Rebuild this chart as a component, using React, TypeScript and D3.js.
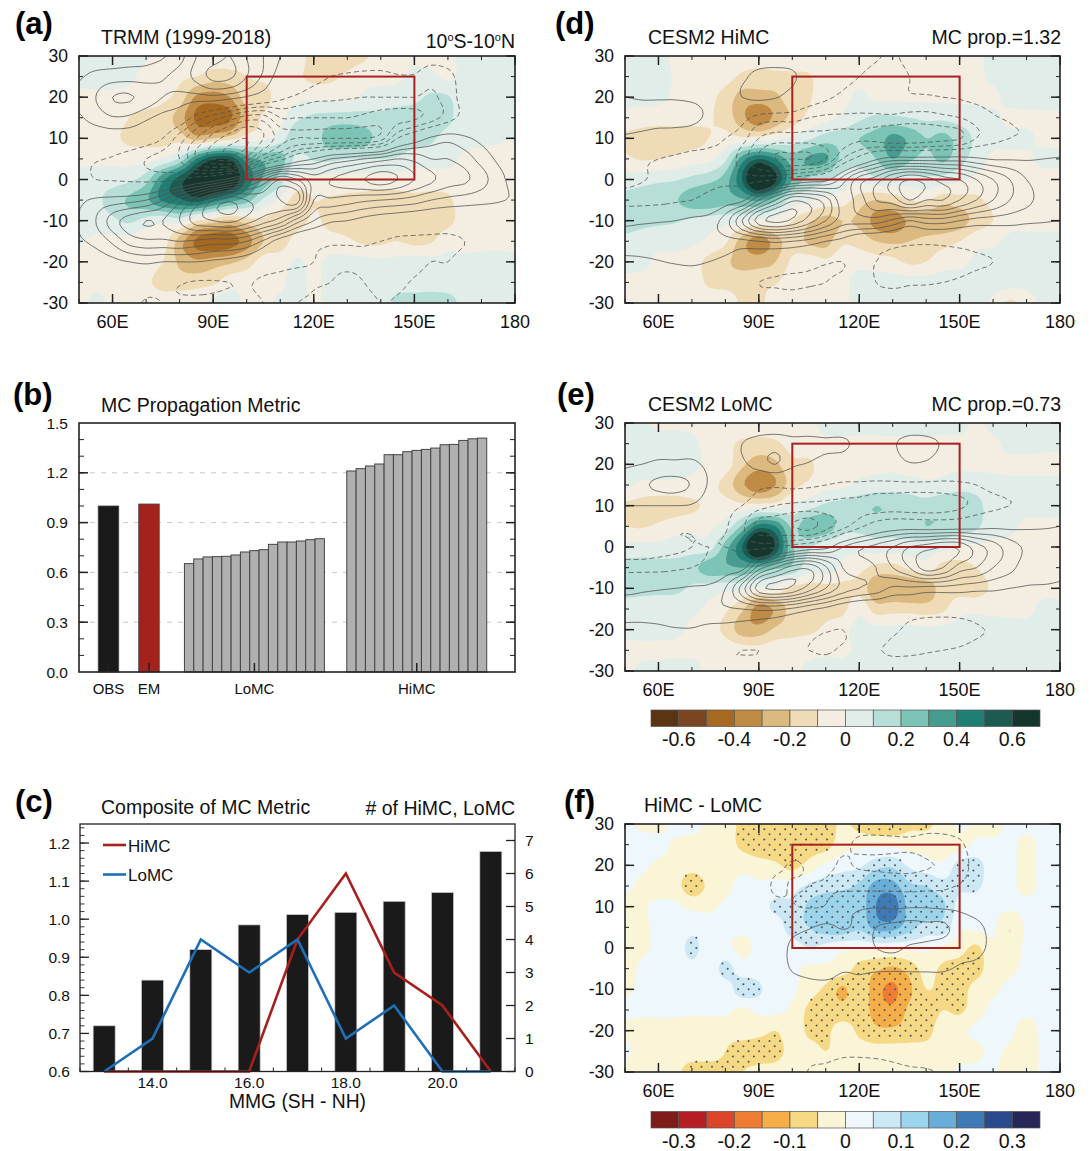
import React from "react";
import * as d3 from "d3";

const FONT = "'Liberation Sans', Arial, sans-serif";
const LONS = d3.range(50, 181, 5);
const LATS = d3.range(30, -31, -5);

// Panel (a) TRMM: rainfall-like shaded anomaly (hundredths), rows 30N..30S, cols 50E..180
const A_FILL = [
  [3,3,2,2,1,-2,-3,-5,-5,-5,-5,-3,-3,-3,-15,-15,-15,-12,-5,-3,-3,-2,-2,3,4,3,2],
  [4,5,5,2,-3,-5,-8,-10,-15,-14,-10,-8,-5,-8,-13,-12,-8,-3,-2,-2,3,2,-2,3,3,8,5],
  [-3,-3,-3,-4,-5,-8,-14,-32,-35,-30,-15,-14,-5,-3,-2,-3,-3,2,3,5,7,12,11,3,3,3,3],
  [-4,-4,-5,-10,-13,-15,-25,-42,-45,-42,-22,-8,-3,8,12,14,15,14,13,15,16,19,13,3,2,2,2],
  [-3,-5,-8,-12,-13,-14,-14,-25,-20,-15,-5,-3,5,18,16,25,26,24,16,15,14,12,5,3,2,1,0],
  [-2,-3,-3,-4,-3,1,12,40,58,58,35,28,25,7,11,12,10,10,10,9,5,4,3,-2,-3,-3,-4],
  [3,6,6,8,16,38,55,70,85,75,48,28,15,-2,-3,-4,-4,-4,-5,-5,-5,-5,-4,-4,-3,-3,-2],
  [5,8,14,22,28,42,48,55,45,35,25,8,-2,-15,-10,-11,-12,-13,-14,-13,-12,-13,-12,-4,-3,-3,-3],
  [3,5,8,12,6,2,5,-10,-15,-22,-15,-12,-17,-15,-8,-14,-15,-15,-15,-14,-15,-15,-13,-5,-3,-3,-2],
  [1,-2,-3,-4,-8,-5,-25,-42,-48,-45,-35,-20,-16,-5,-3,-5,-8,-12,-12,-10,-13,-11,-3,-3,-2,-2,-2],
  [-2,-2,-2,-3,-5,-10,-22,-28,-25,-22,-16,-5,-4,1,-2,2,3,3,2,3,5,3,2,2,2,2,2],
  [-2,-3,-3,-5,-8,-14,-15,-14,-12,-4,-3,-3,-2,4,-2,4,4,4,5,5,5,5,4,4,3,2,2],
  [-4,3,-2,-2,-3,-3,-3,-3,3,4,-2,-2,2,3,-2,3,3,3,3,14,15,16,15,6,3,3,3],
];
// Panel (a) contour field
const A_LINE = [
  [.3,.3,.4,.5,.6,.9,1.6,3,3.5,4,3,2,1,.4,.2,.1,0,-.2,-.3,-.3,-.4,-.6,-.5,-.3,-.2,-.2,-.2],
  [.9,1.3,1.5,1.6,1.6,1.9,2.4,3.3,4.3,4.2,3,1.8,.5,.1,-.5,-1,-1.2,-1.3,-1.3,-1.1,-1.1,-1.6,-1.3,-.5,-.3,-.2,-.2],
  [1.2,2,3,3.1,2.6,2,1.7,1.6,1.7,1.4,.9,.2,-.7,-1.2,-1.7,-1.8,-1.9,-2,-2,-2,-2,-2.2,-1.5,-.6,-.3,-.2,-.2],
  [.9,1.4,1.9,1.8,1.2,.6,0,-1.5,-2.5,-3.5,-4.5,-4.5,-3,-3,-3,-3,-3,-3.2,-3.5,-3.4,-3.2,-2.5,-1.5,-.6,-.3,-.2,-.2],
  [.3,.2,.2,.1,-.3,-1,-2.5,-4,-5.5,-6.5,-7,-6,-4.5,-4,-4,-4,-4,-4,-3.5,-1,.2,1.2,1.6,1.2,.7,.3,-.1],
  [-.6,-.9,-1.1,-1.5,-2,-2.4,-3,-5,-6,-6.5,-5.5,-3,-1.5,.2,1,2,2.5,3,3.5,4,3.7,3,3,2.5,1.6,.8,.2],
  [-.4,-1,-1.1,-1.2,-1.3,-1.3,-1,-.3,.3,1.5,3,5,7,6,4.5,5,5.5,6,6.5,6,5,4.2,3.5,3.2,2.4,1.4,.6],
  [.8,1.2,1.4,1.6,2,3,4.5,6,8,8.8,8,7.5,8,8.5,4,3.8,3.5,3.2,3,2.8,2.5,2,1.7,1.5,1.3,1.1,.9],
  [1,2,3.5,4.5,5,5,6,7.5,8,8.3,7.5,6.5,5.5,3.5,2,1.2,1,.6,.3,.1,-.1,-.2,-.3,-.2,-.1,0,.1],
  [.9,1.3,2.2,3.4,3.8,3.8,4,3.8,3.5,3.5,3,1.8,.4,-.3,-.6,-.8,-.8,-.8,-1,-1.2,-1.2,-1.2,-1.2,-1,-.6,-.4,-.3],
  [.2,.4,.7,1,1.2,1,1,1,.8,.6,.3,-.2,-.6,-.8,-1,-1.2,-1.3,-1.3,-1.6,-1.5,-1.3,-1,-1,-.6,-.4,-.2,-.2],
  [-.1,-.2,-.2,-.3,-.4,-.6,-.9,-1.1,-1.1,-1,-.9,-1.2,-1.3,-1.4,-1.1,-1,-.6,-1,-1.4,-1.2,-.9,-.6,-.6,-.3,-.2,-.1,-.1],
  [-.1,-.1,-.3,-.6,-1.1,-1,-.9,-.8,-.7,-.5,-.6,-1,-1.2,-1,-.8,-.5,-.5,-.6,-1,-.9,-.7,-.5,-.4,-.2,-.1,-.1,-.1],
];
// Panel (d) CESM2 HiMC
const D_FILL = [
  [3,3,3,-2,-3,-3,-4,-5,-5,-4,-3,-3,-3,-2,-2,-2,-2,-2,-2,-2,-2,-2,3,4,4,4,4],
  [3,3,4,-1,-3,-5,-6,-12,-14,-13,-12,-11,-4,-3,-2,-2,-2,-2,-2,-2,-2,-2,2,4,4,4,4],
  [2,3,3,-2,-3,-7,-14,-24,-24,-22,-14,-11,-4,-3,2,-2,-2,-2,-2,-2,-2,-2,-2,3,4,4,4],
  [-3,-5,-6,-6,-7,-9,-14,-27,-38,-27,-17,-7,-3,2,8,12,12,10,8,8,6,4,2,-2,-2,-2,-2],
  [-12,-14,-14,-14,-13,-10,-6,-8,-6,-3,3,8,15,16,20,24,33,28,20,23,16,8,3,2,2,-2,-2],
  [-8,-11,-10,-8,-5,-3,8,35,50,40,25,32,32,17,14,20,30,22,17,22,14,5,-2,-2,-2,2,2],
  [4,6,8,9,13,17,25,50,85,62,30,18,12,5,3,8,8,6,8,6,2,-3,-3,-3,-3,-3,-3],
  [14,15,16,19,26,28,25,28,32,22,6,2,-3,-5,-15,-20,-17,-10,-9,-16,-14,-12,-7,-3,-2,-2,-2],
  [15,13,12,11,8,5,3,2,-2,-3,-10,-18,-24,-20,-22,-34,-38,-28,-27,-28,-25,-16,-10,-3,-2,-2,-2],
  [7,5,3,3,2,-2,-8,-25,-36,-25,-14,-22,-24,-12,-14,-20,-22,-20,-17,-14,-10,-3,-2,2,2,2,2],
  [3,2,-2,-2,-5,-13,-18,-24,-24,-20,-8,-4,-8,-3,-3,-5,-7,-12,-10,-4,-3,2,3,4,4,4,3],
  [-2,-2,-2,-2,-3,-12,-14,-14,-13,-11,-3,-2,-2,-2,3,4,4,4,4,4,4,4,4,4,3,3,3],
  [-2,-2,-2,-2,-2,-2,-3,-12,-13,-3,-2,-2,-2,-2,3,3,3,3,3,3,3,3,-2,-12,-5,2,2],
];
const D_LINE = [
  [.1,.1,.1,.1,.1,.1,.2,.3,.4,.4,.3,.1,-.2,-.4,-.6,-.9,-1.1,-.7,-.4,-.3,-.2,-.1,-.1,-.1,-.1,-.1,-.1],
  [.3,.3,.3,.3,.2,.2,.3,.8,1.3,1.4,1.2,.3,-.3,-.7,-1,-1.3,-1.4,-1,-.6,-.5,-.4,-.3,-.2,-.1,-.1,-.1,-.1],
  [1,.9,.9,.9,.8,.6,.4,1,1.3,1.1,.4,-.3,-.8,-1.2,-1.4,-1.4,-1.3,-1.1,-1.1,-1,-.9,-.7,-.5,-.4,-.3,-.2,-.1],
  [1.5,1.5,1.5,1.5,1.4,.7,.1,-.6,-1.4,-1.6,-1.6,-2,-2.2,-2.2,-2.2,-2.2,-2.2,-2.4,-2.4,-2.2,-2,-1.6,-1.1,-.9,-.7,-.5,-.4],
  [.8,.6,.3,.2,-.1,-.6,-1,-1.6,-3,-3.5,-3.5,-3.5,-3.4,-3.4,-3.2,-3.4,-3.8,-3.8,-3.6,-3.4,-3.1,-2,-1.4,-1,-.8,-.6,-.5],
  [-.6,-.8,-1,-1.2,-1.4,-1.3,-1.3,-2.5,-4,-5,-5,-5,-4,-2,-.5,.8,1.5,1.5,1.5,1.5,1.5,1.2,.9,.9,.9,1,1.1],
  [-.5,-.9,-1.2,-1.3,-1.3,-1.4,-1.4,-1.5,-1.4,-1,-.4,.2,.6,2.5,4.5,5.5,7,8,7.5,6.5,6,5,4,3,2,1.5,1.2],
  [-1.5,-1.5,-1.4,-1.2,-1,-.5,.3,.7,3,5,6.8,6.5,5.5,3.5,4.5,6,6.5,8,7,7,6,5,4,3,2.3,1.6,1.2],
  [.7,.8,.9,1,1.3,1.5,2.5,5,7.5,8.3,7.8,6.5,5,3.5,3.5,3.5,2.8,2,2.5,2.5,2,1.6,1.5,1.4,1.2,1.1,1],
  [1.3,1.3,1.4,1.5,1.6,1.7,1.7,1.7,2,2.2,2,1.6,1,.6,-.2,-.4,-.6,-.7,-.7,-.6,-.5,-.4,-.3,-.2,-.1,-.1,-.1],
  [.8,.85,.95,1.1,1.2,1,.7,.2,.1,-.2,-.3,-.6,-.9,-1,-.6,-1,-1.1,-1.5,-1.7,-1.7,-1.5,-1.2,-1,-.6,-.3,-.1,-.1],
  [.1,.1,.1,0,0,0,-.1,-.5,-1,-1.1,-1.2,-1.1,-1,-.7,-.5,-1,-1.2,-1.1,-1.1,-1,-.8,-.5,-.3,-.1,-.1,-.1,-.1],
  [0,0,0,0,0,0,-.1,-.3,-.4,-.4,-.4,-.3,-.3,-.3,-.4,-.5,-.4,-.4,-.3,-.2,-.2,-.1,-.1,0,0,0,0],
];
// Panel (e) CESM2 LoMC
const E_FILL = [
  [3,2,-2,-2,-2,-2,-3,-3,-3,-2,-2,-2,3,4,3,3,4,3,3,3,3,-2,3,5,5,4,4],
  [3,4,4,4,2,-3,-7,-12,-14,-12,-6,-3,-2,-2,-2,-2,-2,-2,-2,-2,-2,-2,-2,3,3,2,2],
  [3,4,4,3,2,-2,-5,-18,-25,-22,-12,-12,-3,-2,-2,-2,-2,-5,-6,-2,-2,-2,-2,-2,-2,-2,-2],
  [2,-2,-2,-2,-3,-6,-14,-28,-38,-30,-14,-8,-3,-2,2,4,5,5,3,3,6,5,3,2,2,2,2],
  [-12,-14,-16,-15,-12,-8,-5,-7,-6,-5,2,6,12,14,17,20,18,15,14,18,18,14,4,3,3,3,3],
  [-10,-11,-8,-4,-3,-2,4,22,45,40,18,28,28,14,13,15,14,16,20,18,16,12,3,2,-2,-2,-2],
  [3,3,3,4,5,5,25,50,85,58,22,12,3,3,3,5,5,5,5,4,-2,-2,-2,-2,-2,-2,-2],
  [14,15,14,14,17,26,28,30,28,22,18,4,5,-2,-7,-13,-14,-8,-4,-14,-13,-10,-4,-3,-2,-2,-2],
  [15,14,13,13,8,5,3,2,-2,-3,-12,-14,-13,-13,-13,-28,-28,-30,-27,-15,-14,-15,-8,-3,-2,-2,-2],
  [4,3,3,2,2,-2,-8,-18,-35,-28,-16,-17,-13,-13,-2,-15,-14,-14,-15,-12,-3,-2,-2,-2,-2,2,2],
  [2,3,3,2,-2,-5,-13,-25,-26,-18,-14,-12,-8,-3,3,3,3,3,2,3,3,3,3,3,3,3,3],
  [-2,-2,-2,-2,-2,-2,-3,-5,-6,-3,-3,-3,-2,-2,2,4,4,4,4,4,4,4,4,4,4,4,4],
  [-2,2,3,4,3,-2,-2,-2,-2,-2,-2,2,4,4,4,4,4,4,4,4,4,4,4,4,4,4,4],
];
const E_LINE = [
  [0,0,0,0,0,.1,.1,.2,.3,.3,.3,.3,.2,.2,.2,.3,.4,.4,.3,.2,.1,0,0,0,0,0,0],
  [.3,.3,.4,.4,.4,.3,.4,1,1.4,1.6,1.3,1.3,1.2,1.2,.7,.5,.9,1.3,1.3,.9,.5,.2,.1,.1,0,0,0],
  [.9,1,1.2,1.2,1.2,.8,.6,.8,1.5,2,1.2,.9,.5,.3,.1,.2,.4,.9,.8,.3,.1,0,-.1,-.1,-.1,0,0],
  [1.3,1.8,2.2,2.3,1.9,.9,.2,-.2,-.7,-.8,-.7,-.8,-1,-1.2,-1.2,-1.3,-1.3,-1.3,-1.3,-1.3,-1.2,-1,-.6,-.4,-.3,-.2,-.1],
  [1,1,1,1,.9,.3,-.6,-1,-1.6,-2,-2.2,-2.3,-2.3,-2.3,-2.3,-2.5,-2.5,-2.6,-2.6,-2.5,-2.2,-1.7,-1.3,-1,-.8,-.6,-.4],
  [-.7,-.9,-.9,-.9,-.8,-.6,-.9,-1.8,-3.4,-3.6,-4,-4.4,-3.4,-2.4,-1.3,-.3,.2,.3,.2,.2,.3,.5,.7,.7,.8,.9,1],
  [-.2,-.2,-.5,-.8,-1,-1,-1,-1.3,-1.4,-1.2,-.5,.1,.6,2,2.8,3.3,4,5,5.5,6,5.8,4.5,3.5,2.5,1.8,1.3,1],
  [-1.3,-1.3,-1.3,-1.2,-1,-.6,.2,.5,3.5,5,6.5,6.8,5.2,3,2.6,3,4,5,6.5,6,4.5,4,3,2.3,1.5,1.2,1],
  [.7,.8,.9,1,1.2,1.3,2,4.5,7.5,8.2,7.8,6.5,5,3.6,3,2.6,1.8,1.8,1.6,1.6,1.5,1.3,1.2,1,.9,.9,.9],
  [1.2,1.2,1.4,1.7,1.9,1.9,1.9,2,2.2,2.2,1.8,1.2,.7,.1,-.3,-.3,-.3,-.4,-.4,-.5,-.5,-.4,-.2,-.1,-.1,-.1,-.1],
  [.8,.8,.8,.9,.9,.6,.5,.4,.3,.1,-.3,-.6,-.9,-1,-.6,-.3,-.8,-1.2,-1.5,-1.4,-1.3,-1.1,-.9,-.7,-.5,-.3,-.2],
  [0,0,0,0,-.1,-.5,-.9,-1,-1,-.9,-.9,-1,-1.1,-.9,-.8,-.9,-1.2,-1.2,-1.1,-1,-.9,-.7,-.5,-.3,-.2,-.1,-.1],
  [0,0,0,0,-.1,-.2,-.4,-.5,-.4,-.3,-.3,-.4,-.4,-.4,-.4,-.3,-.3,-.3,-.3,-.2,-.2,-.1,-.1,0,0,0,0],
];
// Panel (f) HiMC - LoMC
const F_FILL = [
  [1,-1,-2,2,2,-1,-3,-6,-8,-8,-7,-9,-8,-4,-7,-9,-9,-6,-6,-3,1,-1,-2,1,1,1,1],
  [1,2,2,-1,-2,-2,-3,-6,-8,-9,-9,-8,-7,-2,-1,-1,-1,-2,-2,-3,-2,1,1,1,-1,1,1],
  [1,1,-1,-2,-3,-2,-2,-2,-3,-4,-7,-3,1,3,4,8,9,4,2,1,7,7,2,1,-1,1,1],
  [1,-1,-2,-3,-8,-4,-2,2,1,2,3,6,8,9,11,17,17,11,10,7,6,6,2,1,-1,1,1],
  [-2,-.5,1,1,-1,-1,1,2,3,6,6,11,13,13,12,20,23,13,13,11,3,2,1,1,1,1,1],
  [-2,-1,1,1,3,2,1,1,1,2,8,10,13,14,11,17,17,12,8,8,1,1,1,-5,1,1,1],
  [-2,-1,1,1,7,1,1,-1,1,1,2,5,3,1,1,1,1,1,1,-1,-3,-6,-1,-3,1,1,1],
  [-3,1,1,1,3,1,7,2,2,1,1,-1,-1,-2,-7,-9,-11,-8,-3,-6,-7,-7,-2,-1,1,1,1],
  [-1,1,1,1,1,1,2,8,6,1,1,-3,-6,-11,-6,-13,-16,-11,-5,-6.5,-7,-3,-1,1,1,1,1],
  [1,1,1,1,1,1,1,-1,1,1,-1,-6,-7,-8,-7,-12,-14,-9,-8,-5,-6,-2,1,1,1,1,1],
  [-1,-2,-2,-2,-3,-3,-3,-2,-3,-5,-2,-6,-6,-3,-6,-9,-9,-8,-7,-2,-1,1,1,1,-2,1,1],
  [1,-2,-3,-3,-3,-3,-5,-8,-8,-7,-3,-3,-5,-3,-3,-3,-3,-3,-3,-3,-2,-1,1,-1,-3,1,1],
  [-2,-3,-3,-4,-7,-7,-6,-5,-3,-3,-2,-2,-2,-2,-2,-2,-2,-2,-2,-2,1,1,1,-3,-3,1,1],
];
const F_LINE = [
  [0,0,0,0,0,0,0,0,0,0,0,-.2,-.5,-.8,-.8,-.7,-.6,-.5,-.7,-.6,-.4,-.2,0,0,0,0,0],
  [0,0,0,0,0,0,0,0,-.1,-.3,-.4,-.7,-.9,-.9,-1.1,-1.2,-1.2,-1.2,-1.3,-1.4,-1.2,-.4,-.1,0,0,0,0],
  [0,0,0,0,0,0,0,-.1,-.2,-.7,-1.1,-.9,-.8,-1.1,-.9,-.8,-.7,-.6,-.9,-1.1,-1.4,-.6,-.1,0,0,0,0],
  [0,0,0,0,0,0,0,-.1,-.3,-1.2,-.9,-1,-1.1,-1.4,-1.4,-1.4,-1.4,-1.5,-1.4,-1.3,-.9,-.4,-.1,0,0,0,0],
  [0,0,0,0,0,0,0,0,-.3,-.6,-.9,-1.1,-.9,.5,.8,.9,.8,.9,.9,.8,.7,.4,0,0,0,0,0],
  [0,0,0,0,0,0,0,0,.2,.3,.6,.9,1.3,.9,1.3,2,2.2,2.3,2.2,2.2,1.6,1.3,.6,.2,0,0,0],
  [0,0,0,0,0,0,0,0,.1,.4,1.2,1.4,1.5,2,1.4,2,2.2,1.9,1.8,1.6,1.3,1.3,.7,.2,0,0,0],
  [0,0,0,0,0,0,0,0,0,.3,1.1,1.3,1.3,1.1,1.1,1.1,1.1,1.1,1.1,1.1,.9,.7,.3,.1,0,0,0],
  [0,0,0,0,0,0,0,0,0,0,.3,.6,.7,.7,.7,.6,.5,.5,.5,.4,.3,.1,0,0,0,0,0],
  [0,0,0,0,0,0,0,0,0,0,0,0,0,0,0,0,0,0,0,0,0,0,0,0,0,0,0],
  [0,0,0,0,0,0,0,0,0,0,0,0,0,0,0,0,0,0,0,0,0,0,0,0,0,0,0],
  [0,0,0,0,0,0,0,0,0,0,0,-.4,-.5,-.7,-.7,-.6,-.5,-.3,-.3,-.2,-.1,0,0,0,0,0,0],
  [0,0,0,0,0,0,0,0,0,0,0,-1.1,-1.3,-1.6,-1.7,-1.7,-1.4,-1.2,-1.1,-.9,-.4,0,0,0,0,0,0],
];

const BRBG = ["#5a3413","#7a4622","#a56a20","#c08b45","#dcb97f","#efdcb6","#f4eee2","#e1ede9","#b7dfd8","#7cc4b6","#479c90","#207f74","#1c5a52","#15362c"];
const RDYLBU = ["#7d1c18","#b51f23","#dc4529","#ee7d33","#f5ae48","#f6d985","#fbf5d8","#eef7fc","#cbe8f4","#9cd4ec","#69aed8","#3e7bb6","#2a4a8d","#262659"];
const BRBG_LEVELS = [-60,-50,-40,-30,-20,-10,0,10,20,30,40,50,60];
const RDYLBU_LEVELS = [-30,-25,-20,-15,-10,-5,0,5,10,15,20,25,30];
const BRBG_LABELS = ["-0.6","-0.4","-0.2","0","0.2","0.4","0.6"];
const RDYLBU_LABELS = ["-0.3","-0.2","-0.1","0","0.1","0.2","0.3"];
const LINE_LEVELS = [1,2,3,4,5,6,7,8,9,10];

// Panel (b)
const OBS_VALUE = 1.0;
const EM_VALUE = 1.012;
const LOMC_METRIC = [.653,.681,.693,.695,.697,.705,.723,.731,.737,.769,.783,.783,.789,.797,.803];
const HIMC_METRIC = [1.211,1.225,1.241,1.253,1.309,1.309,1.327,1.335,1.341,1.349,1.369,1.371,1.395,1.405,1.409];
// Panel (c)
const MMG = [13,14,15,16,17,18,19,20,21];
const COMPOSITE = [.72,.84,.92,.985,1.012,1.018,1.047,1.07,1.178];
const HIMC_COUNT = [0,0,0,0,4,6,3,2,0];
const LOMC_COUNT = [0,1,4,3,4,1,2,0,0];

const FACTOR = 5, PAD = 1;
function catmull(a: number, b: number, c: number, d: number, t: number) {
  return 0.5 * (2 * b + (c - a) * t + (2 * a - 5 * b + 4 * c - d) * t * t + (3 * b - a - 3 * c + d) * t * t * t);
}
function upsample(grid: number[][]) {
  const nr = grid.length, nc = grid[0].length;
  const w = (nc - 1) * FACTOR + 1 + 2 * PAD, h = (nr - 1) * FACTOR + 1 + 2 * PAD;
  const values = new Float64Array(w * h);
  const cl = (v: number, n: number) => Math.max(0, Math.min(n - 1, v));
  for (let j = 0; j < h; j++) {
    const gy = Math.max(0, Math.min(nr - 1, (j - PAD) / FACTOR));
    const y0 = Math.min(nr - 2, Math.floor(gy)), ty = gy - y0;
    for (let i = 0; i < w; i++) {
      const gx = Math.max(0, Math.min(nc - 1, (i - PAD) / FACTOR));
      const x0 = Math.min(nc - 2, Math.floor(gx)), tx = gx - x0;
      const col = [-1, 0, 1, 2].map((dy) => {
        const r = grid[cl(y0 + dy, nr)];
        return catmull(r[cl(x0 - 1, nc)], r[x0], r[x0 + 1], r[cl(x0 + 2, nc)], tx);
      });
      values[j * w + i] = catmull(col[0], col[1], col[2], col[3], ty);
    }
  }
  return { w, h, values };
}

type Mapper = { x: (v: number) => number; y: (v: number) => number };
function polyPath(coords: number[][][][], m: Mapper) {
  const step = 5 / FACTOR;
  let s = "";
  for (const poly of coords) for (const ring of poly) {
    s += "M" + ring.map(([cx, cy]) => `${m.x(50 + (cx - 0.5 - PAD) * step).toFixed(1)},${m.y(30 - (cy - 0.5 - PAD) * step).toFixed(1)}`).join("L") + "Z";
  }
  return s;
}

const AXIS_COLOR = "#222";
const CONTOUR = "#555";

function MapPanel({ id, box, fill, line, colors, levels, dots, xLabelY }: any) {
  const x = d3.scaleLinear().domain([50, 180]).range([box.l, box.r]);
  const y = d3.scaleLinear().domain([30, -30]).range([box.t, box.b]);
  const m = { x, y };
  const fu = upsample(fill);
  const lu = upsample(line);
  const fillPaths = d3.contours().size([fu.w, fu.h]).thresholds(levels)(fu.values as any);
  const solid = d3.contours().size([lu.w, lu.h]).thresholds(LINE_LEVELS)(lu.values as any);
  const neg = lu.values.map((v) => -v);
  const dashed = d3.contours().size([lu.w, lu.h]).thresholds(LINE_LEVELS)(neg as any);
  const dotList: [number, number][] = [];
  if (dots) {
    let row = 0;
    for (let lat = -28.75; lat < 30; lat += 1.25, row++) {
      for (let lon = 51 + (row % 2 ? 1.5625 : 0); lon < 180; lon += 3.125) {
        const i = Math.round((lon - 50) + PAD), j = Math.round((30 - lat) + PAD);
        if (Math.abs(fu.values[j * fu.w + i]) >= dots) dotList.push([lon, lat]);
      }
    }
  }
  const lonMajor = [60, 90, 120, 150, 180];
  const lonMinor = d3.range(50, 181, 10);
  const latMajor = d3.range(-30, 31, 10);
  const latMinor = d3.range(-30, 31, 5);
  const lonLabel = (v: number) => (v === 180 ? "180" : `${v}E`);
  return (
    <g>
      <clipPath id={id}><rect x={box.l} y={box.t} width={box.r - box.l} height={box.b - box.t} /></clipPath>
      <g clipPath={`url(#${id})`}>
        <rect x={box.l} y={box.t} width={box.r - box.l} height={box.b - box.t} fill={colors[0]} />
        {fillPaths.map((c: any, k: number) => (
          <path key={k} d={polyPath(c.coordinates, m)} fill={colors[k + 1]} fillRule="evenodd" />
        ))}
        {dotList.map(([a, b], k) => <circle key={k} cx={x(a)} cy={y(b)} r={1} fill="#555" />)}
        {solid.map((c: any, k: number) => (
          <path key={k} d={polyPath(c.coordinates, m)} fill="none" stroke={CONTOUR} strokeWidth={0.8} />
        ))}
        {dashed.map((c: any, k: number) => (
          <path key={k} d={polyPath(c.coordinates, m)} fill="none" stroke={CONTOUR} strokeWidth={0.8} strokeDasharray="5 3" />
        ))}
      </g>
      <rect x={x(100)} y={y(25)} width={x(150) - x(100)} height={y(0) - y(25)} fill="none" stroke="#a8201f" strokeWidth={2} />
      {lonMinor.map((v) => (
        <g key={v} stroke={AXIS_COLOR} strokeWidth={1}>
          <line x1={x(v)} x2={x(v)} y1={box.b} y2={box.b - 4} />
          <line x1={x(v)} x2={x(v)} y1={box.t} y2={box.t + 4} />
        </g>
      ))}
      {lonMajor.map((v) => (
        <g key={v}>
          <line x1={x(v)} x2={x(v)} y1={box.b} y2={box.b - 9} stroke={AXIS_COLOR} strokeWidth={1.5} />
          <line x1={x(v)} x2={x(v)} y1={box.t} y2={box.t + 9} stroke={AXIS_COLOR} strokeWidth={1.5} />
          <text x={x(v)} y={xLabelY} textAnchor="middle" fontSize={18} fill="#111">{lonLabel(v)}</text>
        </g>
      ))}
      {latMinor.map((v) => (
        <g key={v} stroke={AXIS_COLOR} strokeWidth={1}>
          <line x1={box.l} x2={box.l + 4} y1={y(v)} y2={y(v)} />
          <line x1={box.r} x2={box.r - 4} y1={y(v)} y2={y(v)} />
        </g>
      ))}
      {latMajor.map((v) => (
        <g key={v}>
          <line x1={box.l} x2={box.l + 9} y1={y(v)} y2={y(v)} stroke={AXIS_COLOR} strokeWidth={1.5} />
          <line x1={box.r} x2={box.r - 9} y1={y(v)} y2={y(v)} stroke={AXIS_COLOR} strokeWidth={1.5} />
          <text x={box.l - 11} y={y(v) + 6} textAnchor="end" fontSize={17.5} fill="#111">{v}</text>
        </g>
      ))}
      <rect x={box.l} y={box.t} width={box.r - box.l} height={box.b - box.t} fill="none" stroke={AXIS_COLOR} strokeWidth={1.6} />
    </g>
  );
}

function ColorBar({ x0, x1, y0, y1, colors, labels, labelY }: any) {
  const band = d3.scaleBand<number>().domain(d3.range(colors.length)).range([x0, x1]);
  return (
    <g>
      {colors.map((c: string, i: number) => (
        <rect key={i} x={band(i)} y={y0} width={band.bandwidth()} height={y1 - y0} fill={c} stroke="#555" strokeWidth={0.7} />
      ))}
      {labels.map((t: string, i: number) => (
        <text key={t} x={(band(2 * i + 1) as number)} y={labelY} textAnchor="middle" fontSize={19.5} fill="#111">{t}</text>
      ))}
    </g>
  );
}

function BarPanel() {
  const box = { l: 79, r: 515, t: 423, b: 672 };
  const x = d3.scaleLinear().domain([0, 46.73]).range([box.l, box.r]);
  const y = d3.scaleLinear().domain([0, 1.5]).range([box.b, box.t]);
  const w = x(1) - x(0);
  const lowStart = 11.3, highStart = 28.7, obsAt = 3.16, emAt = 7.5, single = 2.2;
  const major = [0.3, 0.6, 0.9, 1.2];
  const minor = d3.range(0.1, 1.45, 0.1);
  const ticks = [emAt, lowStart + 7.5, highStart + 7.5, obsAt];
  const labels = [["OBS", obsAt], ["EM", emAt], ["LoMC", lowStart + 7.5], ["HiMC", highStart + 7.5]] as [string, number][];
  return (
    <g>
      {major.map((v) => <line key={v} x1={box.l} x2={box.r} y1={y(v)} y2={y(v)} stroke="#c8c8c8" strokeWidth={1} strokeDasharray="5 6" />)}
      {minor.map((v) => (
        <g key={v} stroke={AXIS_COLOR} strokeWidth={1}>
          <line x1={box.l} x2={box.l + 5} y1={y(v)} y2={y(v)} />
          <line x1={box.r} x2={box.r - 5} y1={y(v)} y2={y(v)} />
        </g>
      ))}
      {major.map((v) => (
        <g key={v} stroke={AXIS_COLOR} strokeWidth={1.5}>
          <line x1={box.l} x2={box.l + 9} y1={y(v)} y2={y(v)} />
          <line x1={box.r} x2={box.r - 9} y1={y(v)} y2={y(v)} />
        </g>
      ))}
      <rect x={x(obsAt - single / 2)} y={y(OBS_VALUE)} width={single * w} height={box.b - y(OBS_VALUE)} fill="#1a1a1a" stroke="#444" strokeWidth={0.8} />
      <rect x={x(emAt - single / 2)} y={y(EM_VALUE)} width={single * w} height={box.b - y(EM_VALUE)} fill="#a4221c" stroke="#444" strokeWidth={0.8} />
      {LOMC_METRIC.map((v, i) => <rect key={i} x={x(lowStart + i)} y={y(v)} width={w} height={box.b - y(v)} fill="#b0b0b0" stroke="#444" strokeWidth={1} />)}
      {HIMC_METRIC.map((v, i) => <rect key={i} x={x(highStart + i)} y={y(v)} width={w} height={box.b - y(v)} fill="#b0b0b0" stroke="#444" strokeWidth={1} />)}
      {ticks.map((t) => <line key={t} x1={x(t)} x2={x(t)} y1={box.b} y2={box.b - 9} stroke={AXIS_COLOR} strokeWidth={1.5} />)}
      {[0, 0.3, 0.6, 0.9, 1.2, 1.5].map((v) => (
        <text key={v} x={box.l - 11} y={y(v) + 5.5} textAnchor="end" fontSize={15.5} fill="#111">{v.toFixed(1)}</text>
      ))}
      {labels.map(([t, p]) => <text key={t} x={x(p)} y={694} textAnchor="middle" fontSize={15} fill="#111">{t}</text>)}
      <rect x={box.l} y={box.t} width={box.r - box.l} height={box.b - box.t} fill="none" stroke={AXIS_COLOR} strokeWidth={1.6} />
    </g>
  );
}

function LinePanel() {
  const box = { l: 80, r: 515, t: 824, b: 1071.5 };
  const x = d3.scaleLinear().domain([12.5, 21.5]).range([box.l, box.r]);
  const y = d3.scaleLinear().domain([0.6, 1.25]).range([box.b, box.t]);
  const y2 = d3.scaleLinear().domain([0, 7.5]).range([box.b, box.t]);
  const bw = 22;
  const path = d3.line<number>().x((_, i) => x(MMG[i])).y((d) => y2(d));
  return (
    <g>
      {d3.range(12.5, 21.6, 0.5).map((v) => <line key={v} x1={x(v)} x2={x(v)} y1={box.b} y2={box.b - 4} stroke={AXIS_COLOR} strokeWidth={1} />)}
      {d3.range(0.62, 1.25, 0.02).map((v) => <line key={v} x1={box.l} x2={box.l + 4.5} y1={y(v)} y2={y(v)} stroke={AXIS_COLOR} strokeWidth={0.9} />)}
      {[0.6, 0.7, 0.8, 0.9, 1.0, 1.1, 1.2].map((v) => (
        <g key={v}>
          <line x1={box.l} x2={box.l + 9} y1={y(v)} y2={y(v)} stroke={AXIS_COLOR} strokeWidth={1.3} />
          <text x={box.l - 10} y={y(v) + 5.5} textAnchor="end" fontSize={15.5} fill="#111">{v.toFixed(1)}</text>
        </g>
      ))}
      {d3.range(0, 8).map((v) => (
        <g key={v}>
          <line x1={box.r} x2={box.r - 9} y1={y2(v)} y2={y2(v)} stroke={AXIS_COLOR} strokeWidth={1.3} />
          <text x={box.r + 10} y={y2(v) + 5.5} fontSize={15.5} fill="#111">{v}</text>
        </g>
      ))}
      {COMPOSITE.map((v, i) => <rect key={i} x={x(MMG[i]) - bw / 2} y={y(v)} width={bw} height={box.b - y(v)} fill="#1a1a1a" stroke="#ccc" strokeWidth={0.7} />)}
      <path d={path(HIMC_COUNT) as string} fill="none" stroke="#a8201c" strokeWidth={2.6} />
      <path d={path(LOMC_COUNT) as string} fill="none" stroke="#1f6fb8" strokeWidth={2.6} />
      {[14, 16, 18, 20].map((v) => <text key={v} x={x(v)} y={1088} textAnchor="middle" fontSize={15.5} fill="#111">{v.toFixed(1)}</text>)}
      <text x={297.5} y={1108} textAnchor="middle" fontSize={19.3} fill="#111">MMG (SH - NH)</text>
      <line x1={103} x2={126} y1={845} y2={845} stroke="#a8201c" strokeWidth={2.6} />
      <text x={128} y={851.5} fontSize={17} fill="#111">HiMC</text>
      <line x1={103} x2={126} y1={874.5} y2={874.5} stroke="#1f6fb8" strokeWidth={2.6} />
      <text x={128} y={881} fontSize={17} fill="#111">LoMC</text>
      <rect x={box.l} y={box.t} width={box.r - box.l} height={box.b - box.t} fill="none" stroke={AXIS_COLOR} strokeWidth={1.3} />
    </g>
  );
}

const Letter = ({ x, y, t }: any) => <text x={x} y={y} fontSize={31} fontWeight="bold" fill="#000">{t}</text>;
const Title = ({ x, y, t, end }: any) => <text x={x} y={y} fontSize={19.5} textAnchor={end ? "end" : "start"} fill="#111">{t}</text>;

export default function App() {
  return (
    <svg width={1091} height={1151} style={{ position: "absolute", left: 0, top: 0, background: "#fff" }} fontFamily={FONT}>
      <MapPanel id="pa" box={{ l: 79, r: 515, t: 56, b: 303 }} fill={A_FILL} line={A_LINE} colors={BRBG} levels={BRBG_LEVELS} xLabelY={328} />
      <MapPanel id="pd" box={{ l: 625, r: 1060, t: 56, b: 303 }} fill={D_FILL} line={D_LINE} colors={BRBG} levels={BRBG_LEVELS} xLabelY={328} />
      <MapPanel id="pe" box={{ l: 625, r: 1060, t: 423, b: 671 }} fill={E_FILL} line={E_LINE} colors={BRBG} levels={BRBG_LEVELS} xLabelY={696} />
      <MapPanel id="pf" box={{ l: 625, r: 1060, t: 824, b: 1072 }} fill={F_FILL} line={F_LINE} colors={RDYLBU} levels={RDYLBU_LEVELS} dots={5.5} xLabelY={1097} />
      <BarPanel />
      <LinePanel />
      <ColorBar x0={651} x1={1040} y0={710} y1={726.5} colors={BRBG} labels={BRBG_LABELS} labelY={746} />
      <ColorBar x0={651} x1={1040} y0={1111.5} y1={1128} colors={RDYLBU} labels={RDYLBU_LABELS} labelY={1148} />
      <Letter x={15} y={34} t="(a)" />
      <Letter x={13} y={405} t="(b)" />
      <Letter x={15} y={812} t="(c)" />
      <Letter x={555} y={34} t="(d)" />
      <Letter x={557} y={405} t="(e)" />
      <Letter x={564} y={812} t="(f)" />
      <Title x={101} y={44} t="TRMM (1999-2018)" />
      <text x={515} y={47.5} fontSize={19.5} textAnchor="end" fill="#111">10<tspan dy={-7} fontSize={11}>o</tspan><tspan dy={7}>S-10</tspan><tspan dy={-7} fontSize={11}>o</tspan><tspan dy={7}>N</tspan></text>
      <Title x={648} y={44} t="CESM2 HiMC" />
      <Title x={1061} y={44} t="MC prop.=1.32" end />
      <Title x={101} y={412} t="MC Propagation Metric" />
      <Title x={648} y={411} t="CESM2 LoMC" />
      <Title x={1061} y={411} t="MC prop.=0.73" end />
      <Title x={101} y={814} t="Composite of MC Metric" />
      <Title x={515} y={815} t="# of HiMC, LoMC" end />
      <Title x={644} y={812} t="HiMC - LoMC" />
    </svg>
  );
}
